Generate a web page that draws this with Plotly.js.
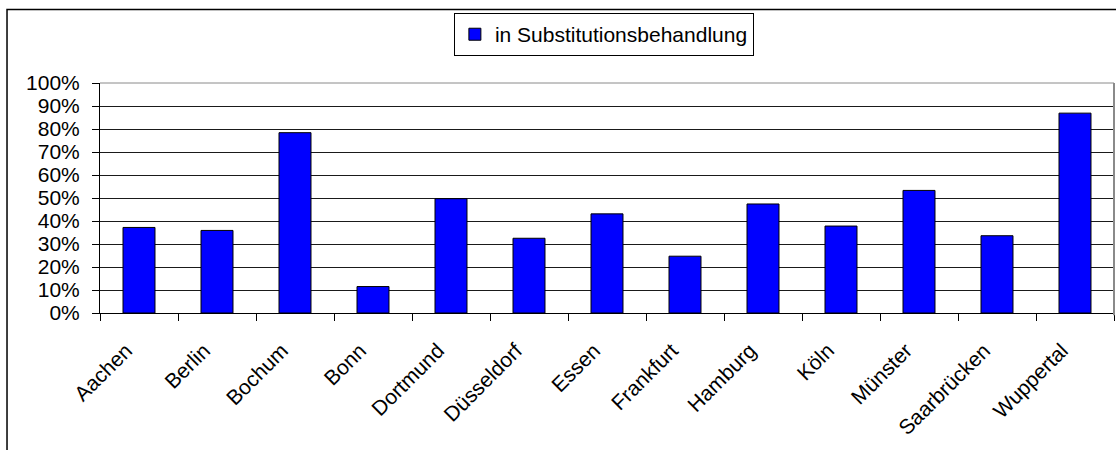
<!DOCTYPE html>
<html>
<head>
<meta charset="utf-8">
<script src="https://cdn.plot.ly/plotly-3.0.1.min.js"></script>
<style>
html,body{margin:0;padding:0;background:#fff;}
#chart{width:1116px;height:450px;}
</style>
</head>
<body>
<div id="chart"></div>
<script>
// Data
const cities = ["Aachen","Berlin","Bochum","Bonn","Dortmund","Düsseldorf","Essen","Frankfurt","Hamburg","Köln","Münster","Saarbrücken","Wuppertal"];
const substitution = [0.372,0.359,0.784,0.115,0.497,0.325,0.431,0.247,0.474,0.378,0.533,0.336,0.869];
const seriesName = "in Substitutionsbehandlung";
const yTickVals = [0,0.1,0.2,0.3,0.4,0.5,0.6,0.7,0.8,0.9,1.0];

const FONT = "Liberation Sans, Arial, sans-serif";
const FS = 21;

const trace = {
  type: "bar",
  x: cities,
  y: substitution,
  name: seriesName,
  showlegend: true,
  marker: {color: "#0000FF", line: {color: "#000000", width: 1}},
  width: 0.41,
  hoverinfo: "x+y"
};

const layout = {
  width: 1116,
  height: 450,
  margin: {l: 100, r: 2, t: 83, b: 137, pad: 0},
  paper_bgcolor: "#ffffff",
  plot_bgcolor: "#ffffff",
  font: {family: FONT, size: FS, color: "#000"},
  showlegend: true,
  legend: {
    x: 0.349, y: 1.304, xanchor: "left", yanchor: "top",
    orientation: "h",
    bordercolor: "#000", borderwidth: 1,
    bgcolor: "#fff",
    font: {family: FONT, size: FS, color: "#000"},
    itemwidth: 30
  },
  xaxis: {
    type: "category",
    tickangle: -45,
    ticks: "outside",
    tickson: "boundaries",
    ticklen: 7,
    tickcolor: "#000",
    tickwidth: 1,
    ticklabelstandoff: 16,
    ticklabelshift: -13,
    showline: true,
    linecolor: "#000",
    linewidth: 1,
    showgrid: false,
    tickfont: {family: FONT, size: FS, color: "#000"}
  },
  yaxis: {
    range: [0, 1],
    tickvals: yTickVals,
    tickformat: ".0%",
    ticks: "outside",
    ticklen: 7,
    tickcolor: "#000",
    tickwidth: 1,
    ticklabelstandoff: 8,
    showline: true,
    linecolor: "#000",
    linewidth: 1,
    showgrid: true,
    gridcolor: "#1a1a1a",
    gridwidth: 1,
    zeroline: false,
    tickfont: {family: FONT, size: FS, color: "#000"}
  },
  shapes: [
    {type: "line", xref: "paper", yref: "paper", x0: 0, x1: 1, y0: 1, y1: 1,
     line: {color: "#8a8a8a", width: 1}, layer: "above"},
    {type: "line", xref: "paper", yref: "paper", x0: 1, x1: 1, y0: -0.01, y1: 1,
     line: {color: "#8a8a8a", width: 2}, layer: "above"},
    {type: "rect", xref: "paper", yref: "paper", x0: -0.0917, x1: 1.05, y0: -0.7, y1: 1.3196,
     line: {color: "#000", width: 1.5}, layer: "below"}
  ]
};

Plotly.newPlot("chart", [trace], layout, {displayModeBar: false, staticPlot: true});
</script>
</body>
</html>
